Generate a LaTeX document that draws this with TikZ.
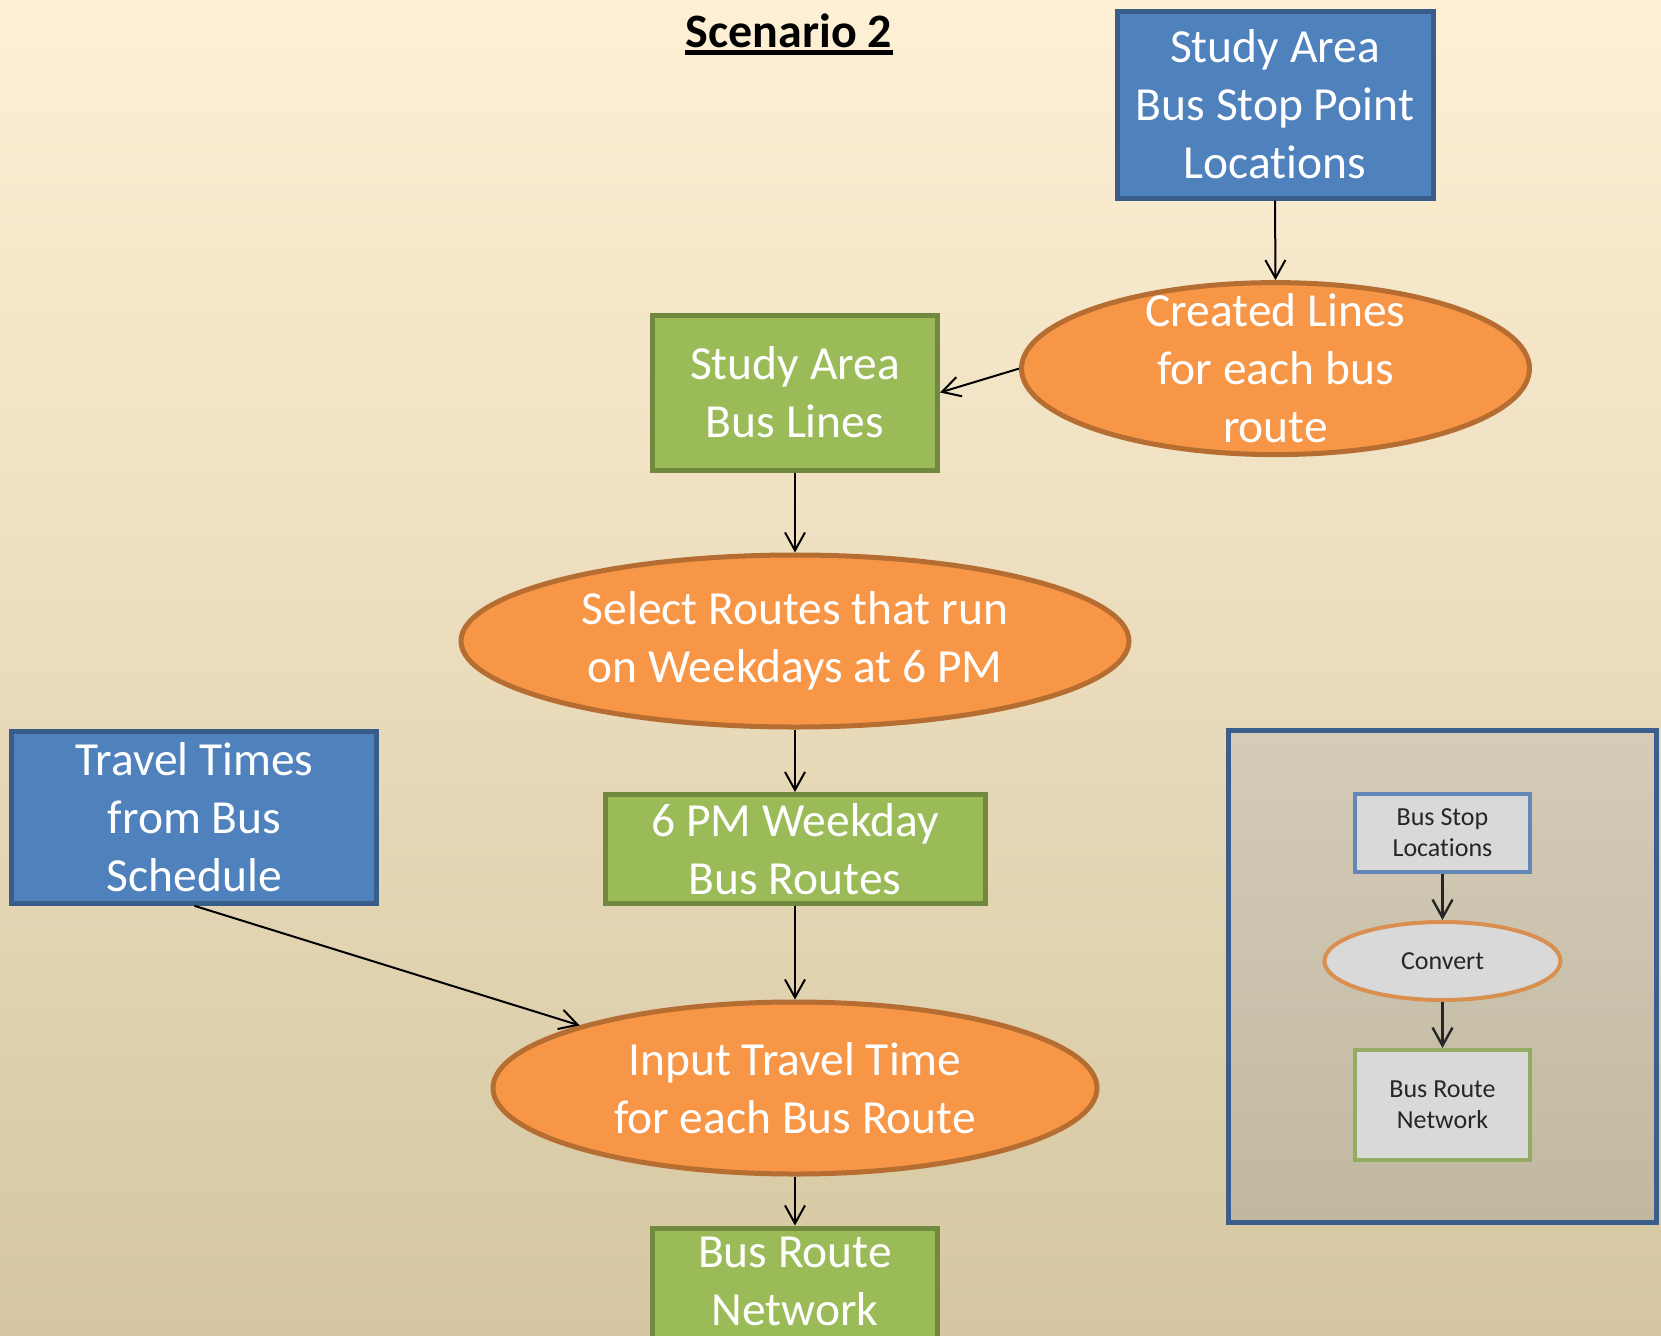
\documentclass[tikz,border=0pt]{standalone}
\usepackage{fontspec}
\setmainfont{Carlito}[Ligatures=NoCommon]
\usetikzlibrary{shapes.geometric,arrows.meta}

\definecolor{bgtop}{HTML}{FEF0D5}
\definecolor{bgmid}{HTML}{F1E9D3}
\definecolor{bgbot}{HTML}{D6C7A2}
\definecolor{accblue}{HTML}{4F81BD}
\definecolor{accblueD}{HTML}{385D8A}
\definecolor{accgreen}{HTML}{9BBB59}
\definecolor{accgreenD}{HTML}{71893F}
\definecolor{accorange}{HTML}{F79646}
\definecolor{accorangeD}{HTML}{B66D31}
\definecolor{keyframe}{HTML}{3B5E8C}
\definecolor{keytop}{HTML}{D4CCB9}
\definecolor{keybot}{HTML}{C1B8A0}
\definecolor{keyfill}{HTML}{D9D9D9}
\definecolor{keyblue}{HTML}{6388B7}
\definecolor{keygreen}{HTML}{94AC62}
\definecolor{keyorange}{HTML}{D98F4F}
\definecolor{keytext}{HTML}{262626}

\newcommand{\bigtxt}{\fontsize{23.75}{29}\selectfont}
\newcommand{\smalltxt}{\fontsize{13}{15.5}\selectfont}

\tikzset{
  box/.style={rectangle, inner sep=0pt, line width=2.5pt, align=center,
    text=white, font=\bigtxt},
  bluebox/.style={box, fill=accblue, draw=accblueD},
  greenbox/.style={box, fill=accgreen, draw=accgreenD},
  process/.style={ellipse, inner sep=0pt, line width=2.5pt,
    fill=accorange, draw=accorangeD},
  proctext/.style={inner sep=0pt, align=center, text=white, font=\bigtxt},
  arr/.style={-{Straight Barb[length=9pt,width=10pt]}, line width=1pt, black},
  keybox/.style={rectangle, inner sep=0pt, line width=2pt, fill=keyfill,
    align=center, text=keytext, font=\smalltxt},
  keyell/.style={ellipse, inner sep=0pt, line width=2pt, fill=keyfill,
    draw=keyorange},
  keyarr/.style={-{Straight Barb[length=9pt,width=10pt]}, line width=1.2pt,
    keytext},
}

\begin{document}
\begin{tikzpicture}[x=0.5pt,y=-0.5pt]
\useasboundingbox (0,0) rectangle (1661,1335);
\shade[top color=bgtop, middle color=bgmid, bottom color=bgbot]
  (0,0) rectangle (1661,1335);

% title
\node[font=\bfseries\fontsize{24}{29}\selectfont, inner sep=0pt, anchor=base]
  (title) at (789,47) {Scenario 2};
\draw[line width=2.5pt] ([yshift=-2.9pt]title.base west) -- ([yshift=-2.9pt]title.base east);

% main flow
\node[bluebox, minimum width=158pt, minimum height=93.5pt] (stops) at (1275,104.5)
  {Study Area\\Bus Stop Point\\Locations};
\node[process, minimum width=254pt, minimum height=86pt] (create) at (1275.5,368.6) {};
\node[proctext] (createT) at (create.center) {Created Lines\\for each bus\\route};
\node[greenbox, minimum width=142.5pt, minimum height=77.5pt] (lines) at (795,392.5)
  {Study Area\\Bus Lines};
\node[process, minimum width=334pt, minimum height=86pt] (select) at (795,641) {};
\node[proctext] (selectT) at (select.center) {Select Routes that run\\on Weekdays at 6 PM};
\node[greenbox, minimum width=190pt, minimum height=54.5pt] (routes) at (795,849)
  {6 PM Weekday\\Bus Routes};
\node[bluebox, minimum width=182.5pt, minimum height=86pt] (times) at (194.4,817.3)
  {Travel Times\\from Bus\\Schedule};
\node[process, minimum width=302pt, minimum height=86pt] (input) at (795,1088) {};
\node[proctext] (inputT) at (input.center) {Input Travel Time\\for each Bus Route};
\node[greenbox, minimum width=142.5pt, minimum height=55pt] (network) at (795,1283) {};
\node[proctext] (networkT) at (795,1281) {Bus Route\\Network};

\draw[arr] (stops.south) -- (create.north);
\draw[arr] (create.west) -- (lines.east);
\draw[arr] (lines.south) -- (select.north);
\draw[arr] (select.south) -- (routes.north);
\draw[arr] (routes.south) -- (input.north);
\draw[arr] (times.south) -- (input.north west);
\draw[arr] (input.south) -- (network.north);

% key
\node[rectangle, inner sep=0pt, line width=2.5pt, draw=keyframe,
  top color=keytop, bottom color=keybot, minimum width=214pt, minimum height=246pt]
  (key) at (1442,976) {};
\node[keybox, draw=keyblue, minimum width=87.5pt, minimum height=39pt]
  (kstops) at (1442.5,833) {Bus Stop\\Locations};
\node[keyell, minimum width=118pt, minimum height=39pt] (kconv) at (1442.5,961) {};
\node[inner sep=0pt, text=keytext, font=\smalltxt] (kconvT) at (kconv.center) {Convert};
\node[keybox, draw=keygreen, minimum width=87.5pt, minimum height=55pt]
  (knet) at (1442.5,1105) {Bus Route\\Network};
\draw[keyarr] (kstops.south) -- (kconv.north);
\draw[keyarr] (kconv.south) -- (knet.north);
\end{tikzpicture}
\end{document}
